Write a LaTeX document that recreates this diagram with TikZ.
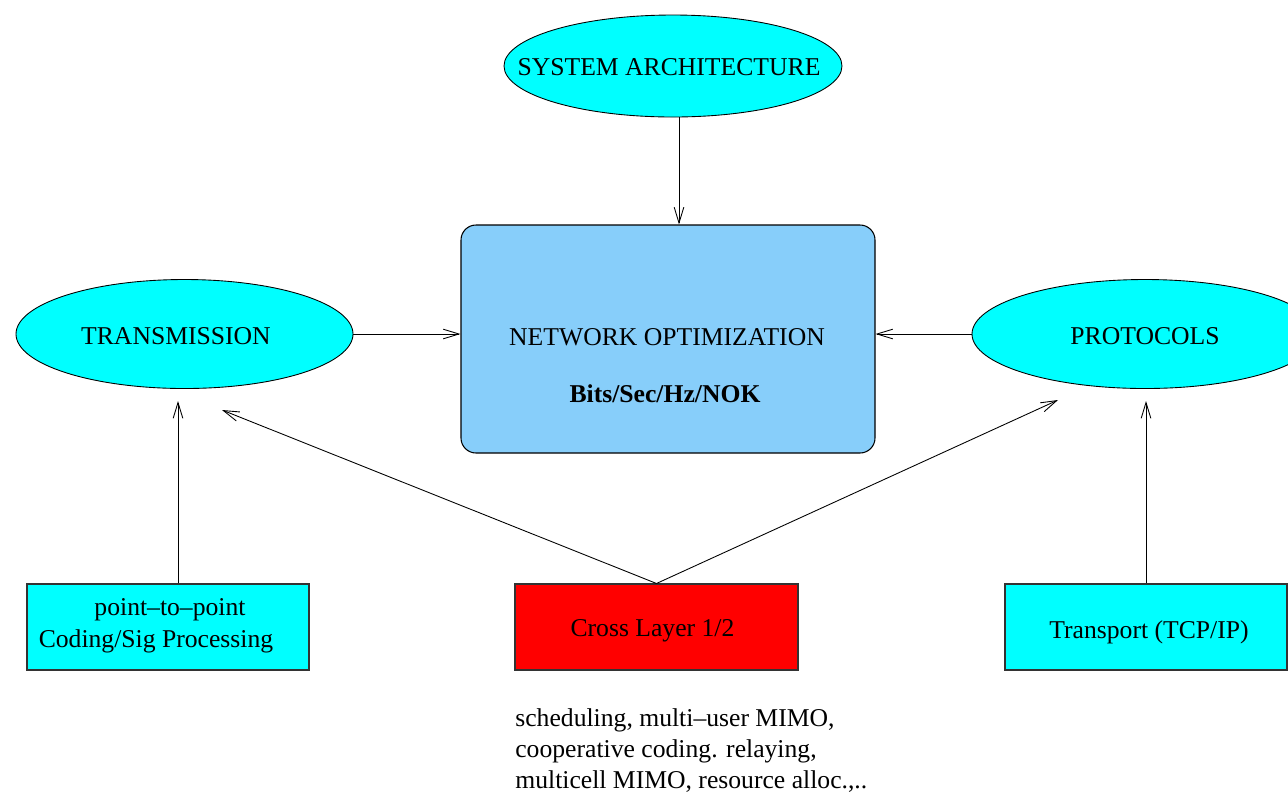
\documentclass[tikz,border=0pt]{standalone}
\usepackage{fontspec}
\setmainfont{Liberation Serif}
\usetikzlibrary{shapes.geometric,arrows.meta}
\definecolor{cyanfill}{HTML}{00FFFF}
\definecolor{netblue}{HTML}{87CEFA}
\definecolor{redfill}{HTML}{FF0000}
\tikzset{
  every node/.style={font=\fontsize{14.6}{17.6}\selectfont},
  oval/.style={ellipse, draw=black, fill=cyanfill, line width=0.5pt, inner sep=0pt},
  rectbox/.style={rectangle, draw=black!80, line width=0.6pt, inner sep=0pt, minimum width=282*0.02cm, minimum height=86*0.02cm},
  conn/.style={draw=black, line width=0.5pt, -{Straight Barb[length=9pt,width=5.5pt,line width=0.5pt]}},
}
\begin{document}
\begin{tikzpicture}[x=0.02cm, y=-0.02cm]
\useasboundingbox (0,0) rectangle (1288,796);
% ellipses
\node[oval, minimum width=338*0.02cm, minimum height=102*0.02cm] (sys) at (673,66) {};
\node at (669,67) (systxt) {SYSTEM ARCHITECTURE};
\node[oval, minimum width=337*0.02cm, minimum height=109*0.02cm] (trans) at (184.5,334) {};
\node at (176,336) (transtxt) {TRANSMISSION};
\node[oval, minimum width=346*0.02cm, minimum height=109*0.02cm] (prot) at (1145,334) {};
\node at (1145,336) (prottxt) {PROTOCOLS};
% network box
\node[draw=black, line width=0.6pt, fill=netblue, rounded corners=15*0.02cm, minimum width=414*0.02cm, minimum height=228*0.02cm, inner sep=0pt] (net) at (668,339) {};
\node at (667,337) (nettxt) {NETWORK OPTIMIZATION};
\node at (665,394) (bits) {\textbf{Bits/Sec/Hz/NOK}};
% bottom boxes
\node[rectbox, fill=cyanfill] (p2p) at (168,627) {};
\node at (170,610) (p2ptxt1) {point--to--point};
\node at (156,641) (p2ptxt2) {Coding/Sig Processing};
\node[rectbox, fill=redfill, minimum width=283*0.02cm] (cross) at (656.5,627) {};
\node at (652.5,631) (crosstxt) {Cross Layer 1/2};
\node[rectbox, fill=cyanfill] (tcp) at (1146,627) {};
\node at (1149,632) (tcptxt) {Transport (TCP/IP)};
% note
\node[anchor=north west, align=left, inner sep=0pt] at (515,708) (note) {scheduling, multi--user MIMO,\\cooperative coding. relaying,\\multicell MIMO, resource alloc.,..};
% connector endpoints
\coordinate (sysx) at (679,0);
\coordinate (t1) at (178,401);
\coordinate (t2) at (1146,401);
\coordinate (c1) at (222,410);
\coordinate (c2) at (1058,400);
% connectors
\draw[conn] (sysx |- sys.south) -- (sysx |- net.north);
\draw[conn] (trans.east) -- (trans.east -| net.west);
\draw[conn] (prot.west) -- (prot.west -| net.east);
\draw[conn] (t1 |- p2p.north) -- (t1);
\draw[conn] (t2 |- tcp.north) -- (t2);
\draw[conn] (cross.north) -- (c1);
\draw[conn] (cross.north) -- (c2);
\end{tikzpicture}
\end{document}
